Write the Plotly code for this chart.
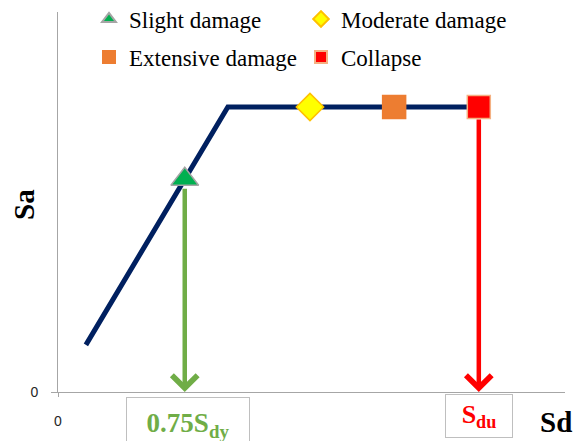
import plotly.graph_objects as go

# Capacity curve (spectral displacement Sd vs spectral acceleration Sa)
curve_sd = [0.55, 3.35, 8.3]
curve_sa = [1.24, 7.5, 7.5]

# Damage-state thresholds on the curve
states = ["Slight damage", "Moderate damage", "Extensive damage", "Collapse"]
state_sd = [2.5, 4.97, 6.63, 8.3]
state_sa = [5.6, 7.5, 7.5, 7.5]
state_symbol = ["triangle-up", "diamond", "square", "square"]
state_size = [24, 21, 23, 23]
state_fill = ["#00B050", "#FFFF00", "#ED7D31", "#FF0000"]
state_edge = ["#A5A5A5", "#FFC000", "#ED7D31", "#F4B183"]
state_legend = ["legend", "legend", "legend2", "legend2"]

# Reference displacements marked on the Sd axis
sdy_frac_sd = 2.5      # 0.75 Sdy
sdy_arrow_top = 5.39
sdu_sd = 8.3           # Sdu
sdu_arrow_top = 7.21

x_range = [0, 10]
y_range = [0, 10]

serif = "Liberation Serif"
sans = "Liberation Sans"

W, H = 584, 441
ml, mr, mt, mb = 58, 19, 12, 49
pw, ph = W - ml - mr, H - mt - mb


def px_to_paper(px, py):
    """Pixel position in the page -> paper coordinates of the plot area."""
    return (px - ml) / pw, (H - py - mb) / ph


fig = go.Figure()

fig.add_trace(go.Scatter(
    x=curve_sd, y=curve_sa, mode="lines",
    line=dict(color="#002060", width=5),
    showlegend=False, hoverinfo="skip",
))

for name, sd, sa, sym, sz, fc, ec, lg in zip(states, state_sd, state_sa, state_symbol,
                                           state_size, state_fill, state_edge, state_legend):
    fig.add_trace(go.Scatter(
        x=[sd], y=[sa], mode="markers", name=name, legend=lg,
        marker=dict(symbol=sym, size=sz, color=fc, line=dict(color=ec, width=1.5)),
    ))

# Arrows dropping to the Sd axis
for x_val, top, colour in [(sdy_frac_sd, sdy_arrow_top, "#70AD47"),
                           (sdu_sd, sdu_arrow_top, "#FF0000")]:
    fig.add_annotation(x=x_val, y=0, ax=x_val, ay=top,
                       xref="x", yref="y", axref="x", ayref="y", text="",
                       showarrow=True, arrowhead=4, arrowsize=1.1, arrowwidth=4.5,
                       arrowcolor=colour, standoff=0, startstandoff=0)

# Boxed labels under the axis
fig.add_annotation(x=sdy_frac_sd, y=0, xref="x", yref="y", xshift=3, yshift=-5,
                   yanchor="top", showarrow=False,
                   text="<b>0.75S<sub>dy</sub></b>",
                   font=dict(family=serif, size=27, color="#70AD47"),
                   bordercolor="#BFBFBF", borderwidth=1, borderpad=0,
                   bgcolor="white", width=122, height=54)
fig.add_annotation(x=sdu_sd, y=0, xref="x", yref="y", yshift=-2,
                   yanchor="top", showarrow=False,
                   text="<b>S<sub>du</sub></b>",
                   font=dict(family=serif, size=26, color="#FF0000"),
                   bordercolor="#BFBFBF", borderwidth=1, borderpad=0,
                   bgcolor="white", width=66, height=42)

# Axis titles
sa_x, sa_y = px_to_paper(24, 205)
sd_x, sd_y = px_to_paper(556, 422)
fig.add_annotation(x=sa_x, y=sa_y, xref="paper", yref="paper",
                   xanchor="center", yanchor="middle", showarrow=False,
                   text="<b>Sa</b>", textangle=-90,
                   font=dict(family=serif, size=29, color="black"))
fig.add_annotation(x=sd_x, y=sd_y, xref="paper", yref="paper",
                   xanchor="center", yanchor="middle", showarrow=False,
                   text="<b>Sd</b>",
                   font=dict(family=serif, size=29, color="black"))

legend_common = dict(
    orientation="h", xref="container", yref="container",
    xanchor="left", yanchor="middle",
    font=dict(family=serif, size=23, color="black"),
    bgcolor="rgba(0,0,0,0)", itemsizing="constant",
    entrywidth=167, entrywidthmode="pixels", tracegroupgap=0,
)

fig.update_layout(
    width=W, height=H,
    margin=dict(l=ml, r=mr, t=mt, b=mb, autoexpand=False),
    font=dict(family=serif, color="black"),
    paper_bgcolor="white", plot_bgcolor="white",
    showlegend=True,
    legend=dict(x=89 / W, y=1 - 19 / H, **legend_common),
    legend2=dict(x=89 / W, y=1 - 57 / H, **legend_common),
    xaxis=dict(range=x_range, showgrid=False, zeroline=False,
               showline=True, linecolor="#A6A6A6", linewidth=1,
               ticks="outside", ticklen=4, tickcolor="#A6A6A6",
               tickvals=[0], ticktext=["0"], ticklabelstandoff=12,
               tickfont=dict(family=sans, size=14, color="#262626")),
    yaxis=dict(range=y_range, showgrid=False, zeroline=False,
               showline=True, linecolor="#A6A6A6", linewidth=1,
               ticks="outside", ticklen=6, tickcolor="#A6A6A6",
               tickvals=[0], ticktext=["0"], ticklabelstandoff=10,
               tickfont=dict(family=sans, size=14, color="#262626")),
)

fig.write_html("out.html")
